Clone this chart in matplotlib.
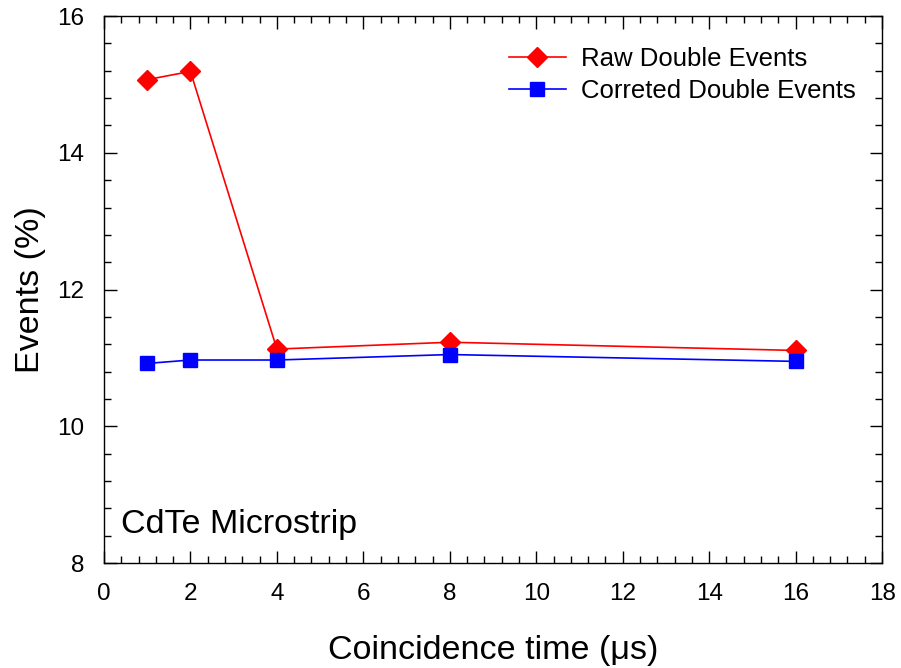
import matplotlib
matplotlib.use('Agg')
import matplotlib.pyplot as plt
from matplotlib.ticker import MultipleLocator

plt.rcParams['font.family'] = ['Liberation Sans', 'DejaVu Sans']

coinc_time = [1, 2, 4, 8, 16]
raw_double = [15.07, 15.19, 11.13, 11.23, 11.11]
corrected_double = [10.92, 10.97, 10.97, 11.05, 10.95]

fig = plt.figure(figsize=(9.01, 6.68), dpi=100)
ax = fig.add_axes([0.1154, 0.157, 0.8636, 0.819])

ax.plot(coinc_time, raw_double, color='red', marker='D', markersize=10, lw=1.2,
        label='Raw Double Events')
ax.plot(coinc_time, corrected_double, color='blue', marker='s', markersize=10, lw=1.2,
        label='Correted Double Events')

ax.set_xlim(0, 18)
ax.set_ylim(8, 16)
ax.xaxis.set_major_locator(MultipleLocator(2))
ax.xaxis.set_minor_locator(MultipleLocator(0.4))
ax.yaxis.set_major_locator(MultipleLocator(2))
ax.yaxis.set_minor_locator(MultipleLocator(0.4))
ax.tick_params(which='both', direction='in', top=True, right=True, width=1)
ax.tick_params(which='major', length=9, labelsize=17.5, pad=14)
ax.tick_params(which='minor', length=5)
for s in ax.spines.values():
    s.set_linewidth(1)

ax.set_xlabel('Coincidence time (\u03bcs)', fontsize=24.5, labelpad=22)
ax.set_ylabel('Events (%)', fontsize=24.5, labelpad=8)

ax.text(0.39, 8.44, 'CdTe Microstrip', fontsize=24.5)

ax.legend(loc='upper right', bbox_to_anchor=(1.006, 1.0), fontsize=18.5, frameon=False,
          handlelength=2.2, handletextpad=0.6, borderaxespad=0.8, labelspacing=0.33)

fig.savefig('out.png', dpi=100)
